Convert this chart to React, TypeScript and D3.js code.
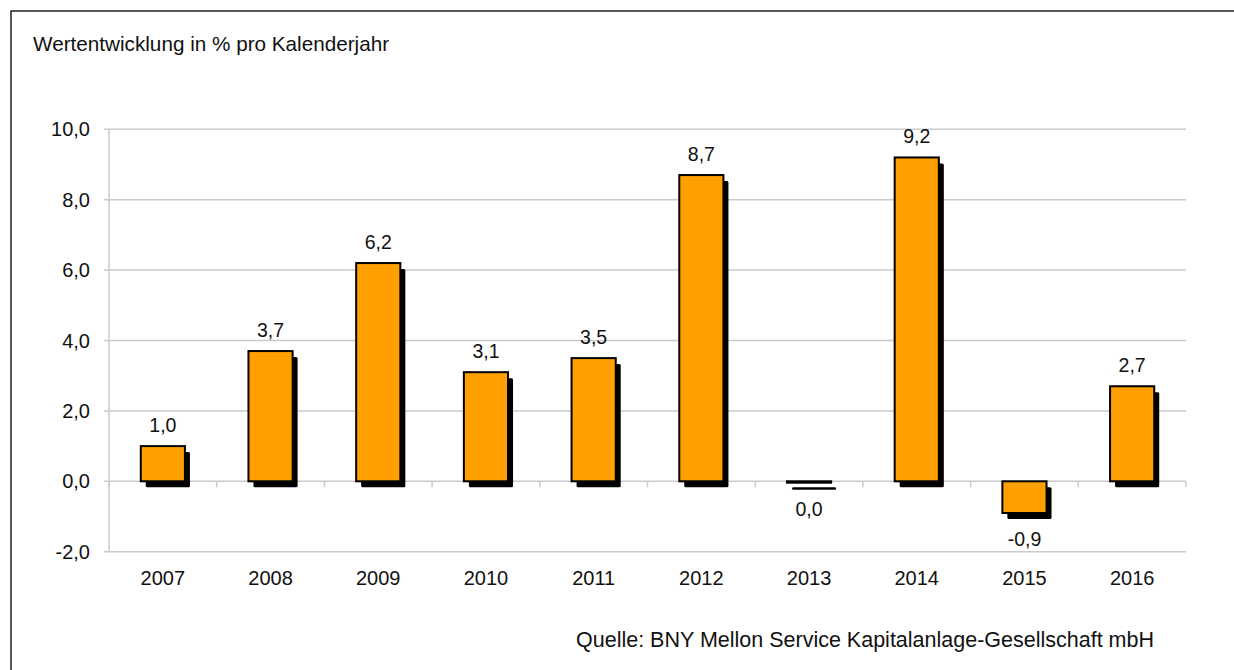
import { useEffect, useRef } from 'react'
import * as d3 from 'd3'

const years = ['2007', '2008', '2009', '2010', '2011', '2012', '2013', '2014', '2015', '2016']
const returns = [1.0, 3.7, 6.2, 3.1, 3.5, 8.7, -0.04, 9.2, -0.9, 2.7]
const yTicks = [-2, 0, 2, 4, 6, 8, 10]

const title = 'Wertentwicklung in % pro Kalenderjahr'
const source = 'Quelle: BNY Mellon Service Kapitalanlage-Gesellschaft mbH'

const W = 1234
const H = 670
const FONT = 'Liberation Sans, Arial, sans-serif'

// German decimal comma, plain hyphen for negatives, no "-0,0"
const fmt = (v: number) => {
  const s = d3.format('.1f')(v).replace('\u2212', '-')
  return (Number(s) === 0 ? '0.0' : s).replace('.', ',')
}

export default function App() {
  const svgRef = useRef<SVGSVGElement>(null)

  useEffect(() => {
    if (!svgRef.current) return
    const svg = d3.select(svgRef.current)
    svg.selectAll('*').remove()

    const left = 109
    const right = 1186

    const x = d3.scaleBand<string>()
      .domain(years)
      .range([left, right])
      .paddingInner(0.59)
      .paddingOuter(0.295)

    const y = d3.scaleLinear().domain([-2, 10]).range([551.7, 129.3])

    // frame (only top and left edges are visible)
    svg.append('path')
      .attr('d', `M11,${H} V11 H${W}`)
      .attr('fill', 'none')
      .attr('stroke', '#222')
      .attr('stroke-width', 1.5)

    svg.append('text')
      .attr('x', 33)
      .attr('y', 51)
      .style('font-family', FONT)
      .style('font-size', '20.7px')
      .style('fill', '#111')
      .text(title)

    // gridlines
    svg.append('g')
      .selectAll('line')
      .data(yTicks)
      .enter().append('line')
      .attr('x1', left - 5)
      .attr('x2', right)
      .attr('y1', d => y(d))
      .attr('y2', d => y(d))
      .attr('stroke', '#cacaca')
      .attr('stroke-width', 1.5)

    // y axis line
    svg.append('line')
      .attr('x1', left).attr('x2', left)
      .attr('y1', y(10)).attr('y2', y(-2))
      .attr('stroke', '#cacaca')
      .attr('stroke-width', 1.5)

    // category ticks on zero line
    const step = x.step()
    svg.append('g')
      .selectAll('line')
      .data(d3.range(years.length + 1))
      .enter().append('line')
      .attr('x1', i => left + i * step)
      .attr('x2', i => left + i * step)
      .attr('y1', y(0))
      .attr('y2', y(0) + 6)
      .attr('stroke', '#cacaca')
      .attr('stroke-width', 1.5)

    // y labels
    svg.append('g')
      .selectAll('text')
      .data(yTicks)
      .enter().append('text')
      .attr('x', 90)
      .attr('y', d => y(d))
      .attr('dy', '0.35em')
      .attr('text-anchor', 'end')
      .style('font-family', FONT)
      .style('font-size', '20px')
      .style('fill', '#111')
      .text(d => fmt(d))

    // x labels
    svg.append('g')
      .selectAll('text')
      .data(years)
      .enter().append('text')
      .attr('x', d => (x(d) as number) + x.bandwidth() / 2)
      .attr('y', 585)
      .attr('text-anchor', 'middle')
      .style('font-family', FONT)
      .style('font-size', '20px')
      .style('fill', '#111')
      .text(d => d)

    const data = years.map((yr, i) => ({ yr, v: returns[i] }))
    const bw = x.bandwidth()

    // shadows
    svg.append('g')
      .selectAll('rect')
      .data(data)
      .enter().append('rect')
      .attr('x', d => (x(d.yr) as number) + 5)
      .attr('y', d => Math.min(y(d.v), y(0)) + 6)
      .attr('width', bw)
      .attr('height', d => Math.max(Math.abs(y(d.v) - y(0)), 2.5))
      .attr('rx', 1.5)
      .attr('fill', '#000')

    // bars
    svg.append('g')
      .selectAll('rect')
      .data(data)
      .enter().append('rect')
      .attr('x', d => x(d.yr) as number)
      .attr('y', d => Math.min(y(d.v), y(0)))
      .attr('width', bw)
      .attr('height', d => Math.abs(y(d.v) - y(0)))
      .attr('fill', '#ffa000')
      .attr('stroke', '#000')
      .attr('stroke-width', 2)

    // value labels
    svg.append('g')
      .selectAll('text')
      .data(data)
      .enter().append('text')
      .attr('x', d => (x(d.yr) as number) + bw / 2)
      .attr('y', d => d.v >= 0 ? y(d.v) - 14 : y(d.v) + 33)
      .attr('text-anchor', 'middle')
      .style('font-family', FONT)
      .style('font-size', '19.5px')
      .style('fill', '#111')
      .text(d => fmt(d.v))

    svg.append('text')
      .attr('x', 576)
      .attr('y', 647)
      .style('font-family', FONT)
      .style('font-size', '21.5px')
      .style('fill', '#111')
      .text(source)
  }, [])

  return (
    <svg
      ref={svgRef}
      width={W}
      height={H}
      style={{ position: 'absolute', left: 0, top: 0, background: '#fff' }}
    />
  )
}
